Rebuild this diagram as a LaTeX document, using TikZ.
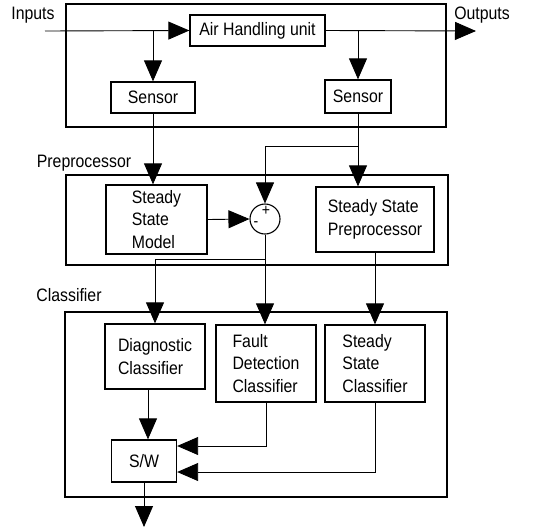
\documentclass[tikz,border=0pt]{standalone}
\usepackage{fontspec}
\setmainfont{Liberation Sans}[FakeStretch=0.88]
\usetikzlibrary{arrows.meta}

\begin{document}
\begin{tikzpicture}[x=1pt,y=-1pt,
  frame/.style={draw,line width=1.3pt,inner sep=0pt},
  box/.style={draw,line width=1.3pt,inner sep=0pt,align=left,font=\fontsize{18}{22.5}\selectfont},
  lbl/.style={font=\fontsize{18}{18}\selectfont},
  arr/.style={-{Triangle[length=21pt,width=18pt]},line width=0.9pt}]
\useasboundingbox (0,0) rectangle (546,528);

% the three blocks
\node [frame,minimum width=380pt,minimum height=123pt] (plant) at (256,65.5) {};
\node [frame,minimum width=382pt,minimum height=90pt] (prep) at (257,220) {};
\node [frame,minimum width=382pt,minimum height=185pt] (clsf) at (256,404.5) {};

\node [lbl] (inlbl) at (33,15) {Inputs};
\node [lbl] (outlbl) at (482,15) {Outputs};
\node [lbl] (preplbl) at (84,163) {Preprocessor};
\node [lbl] (clsflbl) at (69,295) {Classifier};

\node [box,minimum width=135pt,minimum height=31pt] (ahu) at (257.5,30.5) {Air Handling unit};
\node [box,minimum width=84pt,minimum height=31pt] (sensL) at (153,97.5) {Sensor};
\node [box,minimum width=66pt,minimum height=33pt] (sensR) at (358,96.5) {Sensor};

\node [box,minimum width=101pt,minimum height=69pt] (ssm) at (156.5,219.5) {Steady\\State\\Model};
\node [draw,circle,line width=1.1pt,minimum size=30pt,inner sep=0pt] (sum) at (265,219) {};
\node [font=\fontsize{16}{16}\selectfont] (plus) at (266,211) {+};
\node [font=\fontsize{16}{16}\selectfont] (minus) at (256,224) {-};
\node [box,minimum width=118pt,minimum height=65pt] (ssp) at (375,219.5) {Steady State\\Preprocessor};

\node [box,minimum width=100pt,minimum height=65pt] (diag) at (155,356.5) {Diagnostic\\Classifier};
\node [box,minimum width=100pt,minimum height=77pt] (fdc) at (266,363.5) {Fault\\Detection\\Classifier};
\node [box,minimum width=100pt,minimum height=77pt] (ssc) at (375,363.5) {Steady\\State\\Classifier};
\node [box,minimum width=65pt,minimum height=42pt] (sw) at (144,461) {S/W};

\coordinate (in) at (45,31);
\coordinate (out) at (476,31);
\coordinate (tap) at (358,146);
\coordinate (split) at (265,259);
\coordinate (final) at (147,527);

% plant
\draw [arr] (in) -- (ahu.west);
\draw [arr] (ahu.east) -- (out);
\draw [arr] (sensL.north |- in) -- (sensL.north);
\draw [arr] (sensR.north |- out) -- (sensR.north);

% preprocessor
\draw [arr] (sensL.south) -- (sensL.south |- ssm.north);
\draw [arr] (sensR.south) -- (sensR.south |- ssp.north);
\draw [arr] (tap) -| (sum.north);
\draw [arr] (ssm.east) -- (sum.west);

% classifier
\draw [arr] (sum.south) -- (sum.south |- fdc.north);
\draw [arr] (split) -| (diag.north);
\draw [arr] (ssp.south) -- (ssp.south |- ssc.north);
\draw [arr] ([xshift=-7pt]diag.south) -- ([xshift=-7pt]diag.south |- sw.north);
\draw [arr] (fdc.south) |- ([yshift=15pt]sw.east);
\draw [arr] (ssc.south) |- ([yshift=-11pt]sw.east);
\draw [arr] (sw.south) -- (sw.south |- final);
\end{tikzpicture}
\end{document}
